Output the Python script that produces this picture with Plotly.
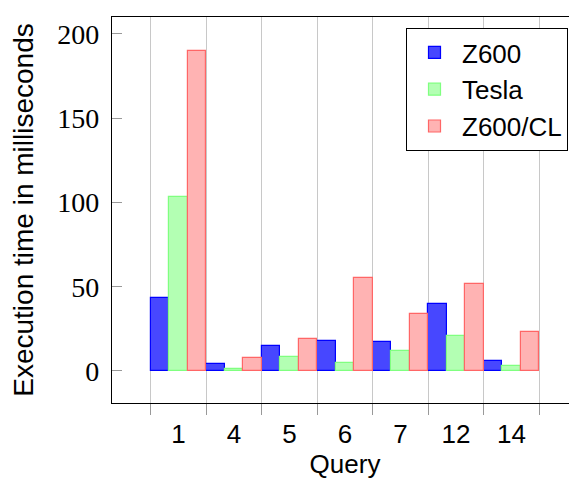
import plotly.graph_objects as go

queries = ["1", "4", "5", "6", "7", "12", "14"]
z600 = [43, 4, 15, 18, 17, 40, 6]
tesla = [103, 1, 8, 5, 12, 21, 3]
z600_cl = [190, 7.5, 19, 55, 34, 51.5, 23]
y_ticks = [0, 50, 100, 150, 200]

SANS = "Liberation Sans"
SERIF = "Liberation Serif"

fig = go.Figure()
fig.add_trace(go.Bar(x=queries, y=z600, name="Z600",
                     marker=dict(color="#4747ff", line=dict(color="#0000ff", width=1.2))))
fig.add_trace(go.Bar(x=queries, y=tesla, name="Tesla",
                     marker=dict(color="#b3ffb3", line=dict(color="#80ff80", width=1.2))))
fig.add_trace(go.Bar(x=queries, y=z600_cl, name="Z600/CL",
                     marker=dict(color="#ffb3b3", line=dict(color="#ff6666", width=1.2))))

# page body adds ~8px offset; size figure to sit in the 577x479 window
fig.update_layout(
    width=570, height=472,
    margin=dict(l=104, r=0, t=9, b=77, autoexpand=False),
    paper_bgcolor="white", plot_bgcolor="white",
    barmode="group", bargap=0, bargroupgap=0,
    font=dict(family=SANS, size=26, color="black"),
    showlegend=True,
    legend=dict(
        x=(568 - 112) / 466, y=1 - 11 / 386, xanchor="right", yanchor="top",
        bordercolor="black", borderwidth=1, bgcolor="white",
        itemwidth=45,
        font=dict(family=SANS, size=26),
    ),
    xaxis=dict(
        type="category", range=[-1.2, 7.2], automargin=False, tickangle=0,
        tickson="boundaries", ticks="outside", ticklen=11, tickcolor="#999999",
        ticklabelstandoff=8,
        showgrid=True, gridcolor="#c8c8c8", gridwidth=1,
        showline=True, linecolor="black", linewidth=1.2, mirror=True,
        tickfont=dict(family=SANS, size=26),
        title=dict(text="Query", font=dict(family=SANS, size=26), standoff=0),
    ),
    yaxis=dict(
        range=[-19, 210], tickvals=y_ticks, automargin=False,
        ticks="inside", ticklen=10, tickcolor="#999999",
        ticklabelstandoff=6,
        showgrid=False, zeroline=False,
        showline=True, linecolor="black", linewidth=1.2, mirror=True,
        tickfont=dict(family=SERIF, size=28),
        title=dict(text="Execution time in milliseconds", font=dict(family=SANS, size=28), standoff=18),
    ),
)

fig.write_html("out.html")
